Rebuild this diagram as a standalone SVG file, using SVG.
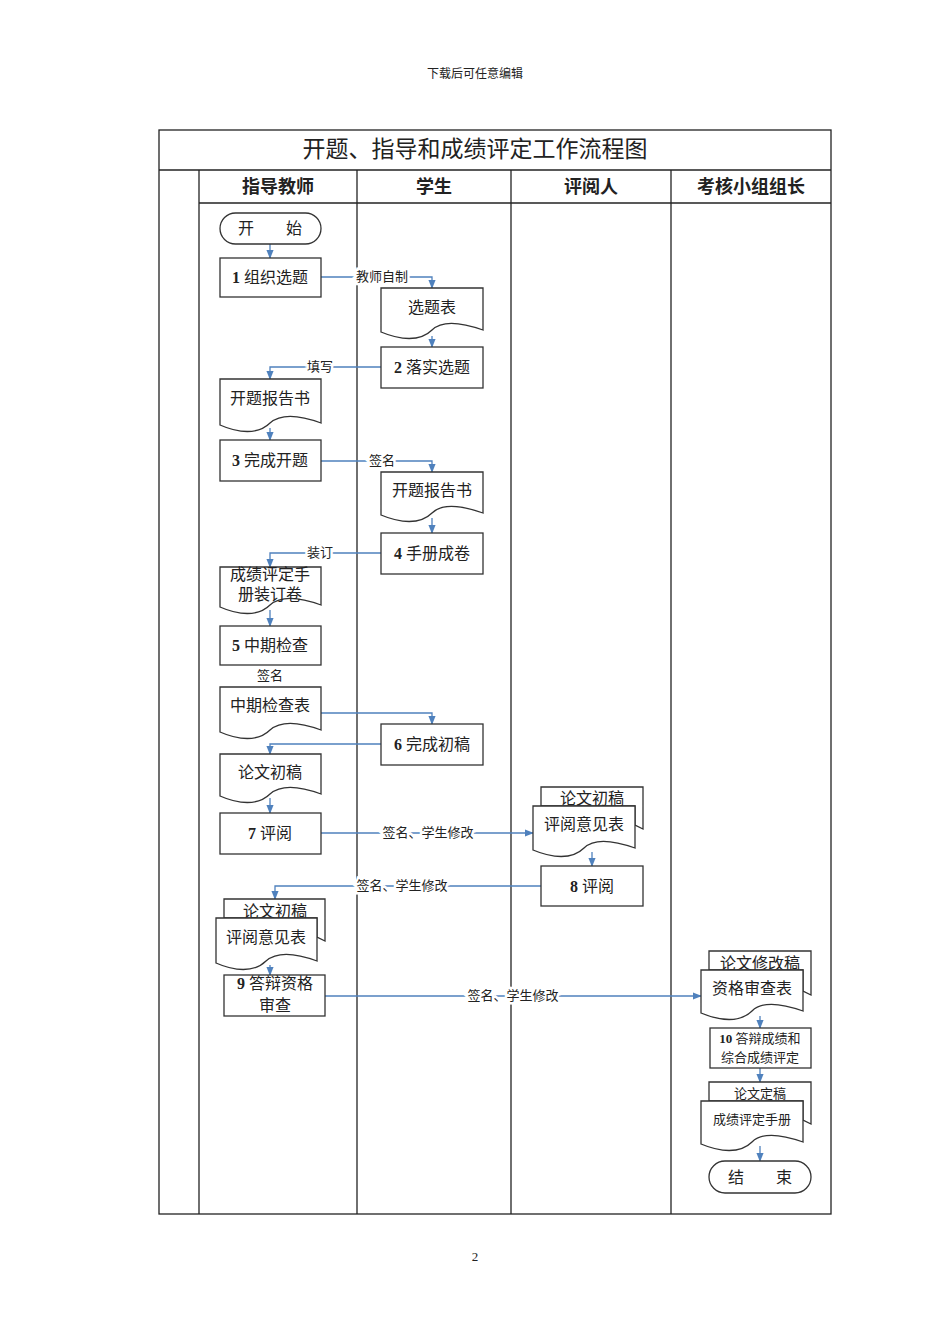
<svg xmlns="http://www.w3.org/2000/svg" width="950" height="1344" viewBox="0 0 950 1344">
<defs>
<marker id="ah" viewBox="0 0 10 10" refX="9" refY="5" markerWidth="7" markerHeight="7" orient="auto"><path d="M0,1 L10,5 L0,9 z" fill="#4f81bd"/></marker>
</defs>
<style>
text{font-family:"Liberation Serif","Noto Sans CJK SC",serif;fill:#222}
.n{fill:#fff;stroke:#333;stroke-width:1.3}
.t{font-size:16px;text-anchor:middle}
.h{font-size:18px;font-weight:bold;text-anchor:middle}
.c{fill:none;stroke:#4f81bd;stroke-width:1.3;marker-end:url(#ah)}
.cl{fill:none;stroke:#4f81bd;stroke-width:1.3}
.l{font-size:13px;text-anchor:middle;paint-order:stroke;stroke:#fff;stroke-width:5px}
.g{stroke:#222;stroke-width:1.3;fill:none}
</style>
<rect width="950" height="1344" fill="#fff"/>
<text x="475" y="78" style="font-size:12px;text-anchor:middle">下载后可任意编辑</text>
<text x="475" y="1261" style="font-size:13px;text-anchor:middle">2</text>
<g id="frame">
<rect x="159" y="130" width="672" height="1084" class="g"/>
<line x1="159" y1="170" x2="831" y2="170" class="g"/>
<line x1="199" y1="203" x2="831" y2="203" class="g"/>
<line x1="199" y1="170" x2="199" y2="1214" class="g"/>
<line x1="357" y1="170" x2="357" y2="1214" class="g" stroke-width="2"/>
<line x1="511" y1="170" x2="511" y2="1214" class="g"/>
<line x1="671" y1="170" x2="671" y2="1214" class="g"/>
<text x="475" y="157" style="font-size:23px;text-anchor:middle">开题、指导和成绩评定工作流程图</text>
<text x="278" y="193" class="h">指导教师</text>
<text x="434" y="193" class="h">学生</text>
<text x="591" y="193" class="h">评阅人</text>
<text x="751" y="193" class="h">考核小组组长</text>
</g>
<g id="connectors">
<path class="c" d="M270,244 V258"/>
<path class="c" d="M321,277 H432 V288"/>
<path class="c" d="M432,336 V347"/>
<path class="c" d="M381,367 H270 V379"/>
<path class="c" d="M270,428 V440"/>
<path class="c" d="M321,461 H432 V472"/>
<path class="c" d="M432,518 V533"/>
<path class="c" d="M381,553 H270 V567"/>
<path class="c" d="M270,610 V626"/>
<path class="c" d="M321,713 H432 V724"/>
<path class="c" d="M381,744 H270 V754"/>
<path class="c" d="M270,798 V813"/>
<path class="c" d="M321,833 H533"/>
<path class="c" d="M592,852 V866"/>
<path class="c" d="M541,886 H275 V899"/>
<path class="c" d="M270,965 V975"/>
<path class="c" d="M325,996 H701"/>
<path class="c" d="M760,1016 V1028"/>
<path class="c" d="M760,1068 V1082"/>
<path class="c" d="M760,1146 V1161"/>
<text x="382" y="281" class="l">教师自制</text>
<text x="320" y="371" class="l">填写</text>
<text x="382" y="465" class="l">签名</text>
<text x="320" y="557" class="l">装订</text>
<text x="270" y="680" class="l">签名</text>
<text x="428" y="837" class="l">签名、学生修改</text>
<text x="402" y="890" class="l">签名、学生修改</text>
<text x="513" y="1000" class="l">签名、学生修改</text>
</g>
<g id="start"><rect class="n" x="220" y="213" width="101" height="31" rx="15.5"/><text x="270" y="234" class="t">开　　始</text></g>
<g id="n1"><rect class="n" x="220" y="258" width="101" height="39"/><text x="270" y="283" class="t"><tspan font-weight="bold">1</tspan> 组织选题</text></g>
<g id="d1"><path class="n" d="M381,288 H483 V330 C455,320 440,322 432,330 C420,342 400,340 381,332 Z"/><text x="432" y="313" class="t">选题表</text></g>
<g id="n2"><rect class="n" x="381" y="347" width="102" height="41"/><text x="432" y="373" class="t"><tspan font-weight="bold">2</tspan> 落实选题</text></g>
<g id="d2"><path class="n" d="M220,379 H321 V423 C294,413 279,415 270,423 C258,435 238,433 220,425 Z"/><text x="270" y="404" class="t">开题报告书</text></g>
<g id="n3"><rect class="n" x="220" y="440" width="101" height="41"/><text x="270" y="466" class="t"><tspan font-weight="bold">3</tspan> 完成开题</text></g>
<g id="d3"><path class="n" d="M381,472 H483 V513 C455,503 440,505 432,513 C420,525 400,523 381,515 Z"/><text x="432" y="496" class="t">开题报告书</text></g>
<g id="n4"><rect class="n" x="381" y="533" width="102" height="41"/><text x="432" y="559" class="t"><tspan font-weight="bold">4</tspan> 手册成卷</text></g>
<g id="d4"><path class="n" d="M220,567 H321 V605 C294,595 279,597 270,605 C258,617 238,615 220,607 Z"/><text x="270" y="580" class="t">成绩评定手</text><text x="270" y="600" class="t">册装订卷</text></g>
<g id="n5"><rect class="n" x="220" y="626" width="101" height="39"/><text x="270" y="651" class="t"><tspan font-weight="bold">5</tspan> 中期检查</text></g>
<g id="d5"><path class="n" d="M220,687 H321 V730 C294,720 279,722 270,730 C258,742 238,740 220,732 Z"/><text x="270" y="711" class="t">中期检查表</text></g>
<g id="n6"><rect class="n" x="381" y="724" width="102" height="41"/><text x="432" y="750" class="t"><tspan font-weight="bold">6</tspan> 完成初稿</text></g>
<g id="d6"><path class="n" d="M220,754 H321 V794 C294,784 279,786 270,794 C258,806 238,804 220,796 Z"/><text x="270" y="778" class="t">论文初稿</text></g>
<g id="n7"><rect class="n" x="220" y="813" width="101" height="41"/><text x="270" y="839" class="t"><tspan font-weight="bold">7</tspan> 评阅</text></g>
<g id="d7">
<path class="n" d="M541,787 H643 V829 L635,825 V806 H541 Z"/><text x="592" y="804" class="t">论文初稿</text>
<path class="n" d="M533,806 H635 V848 C607,838 592,840 584,848 C572,860 552,858 533,850 Z"/><text x="584" y="830" class="t">评阅意见表</text>
</g>
<g id="n8"><rect class="n" x="541" y="866" width="102" height="40"/><text x="592" y="892" class="t"><tspan font-weight="bold">8</tspan> 评阅</text></g>
<g id="d8">
<path class="n" d="M224,899 H325 V941 L317,937 V918 H224 Z"/><text x="275" y="917" class="t">论文初稿</text>
<path class="n" d="M216,918 H317 V961 C290,951 275,953 266,961 C254,973 234,971 216,963 Z"/><text x="266" y="943" class="t">评阅意见表</text>
</g>
<g id="n9"><rect class="n" x="224" y="975" width="101" height="41"/><text x="275" y="989" class="t"><tspan font-weight="bold">9</tspan> 答辩资格</text><text x="275" y="1011" class="t">审查</text></g>
<g id="d9">
<path class="n" d="M709,951 H811 V995 L803,991 V970 H709 Z"/><text x="760" y="969" class="t">论文修改稿</text>
<path class="n" d="M701,970 H803 V1011 C775,1001 760,1003 752,1011 C740,1023 720,1021 701,1013 Z"/><text x="752" y="994" class="t">资格审查表</text>
</g>
<g id="n10"><rect class="n" x="710" y="1028" width="101" height="40"/><text x="760" y="1043" style="font-size:13px;text-anchor:middle"><tspan font-weight="bold">10</tspan> 答辩成绩和</text><text x="760" y="1062" style="font-size:13px;text-anchor:middle">综合成绩评定</text></g>
<g id="d10">
<path class="n" d="M709,1082 H811 V1124 L803,1120 V1101 H709 Z"/><text x="760" y="1098" style="font-size:13px;text-anchor:middle">论文定稿</text>
<path class="n" d="M701,1101 H803 V1142 C775,1132 760,1134 752,1142 C740,1154 720,1152 701,1144 Z"/><text x="752" y="1124" style="font-size:13px;text-anchor:middle">成绩评定手册</text>
</g>
<g id="end"><rect class="n" x="709" y="1161" width="102" height="32" rx="16"/><text x="760" y="1183" class="t">结　　束</text></g>
</svg>
